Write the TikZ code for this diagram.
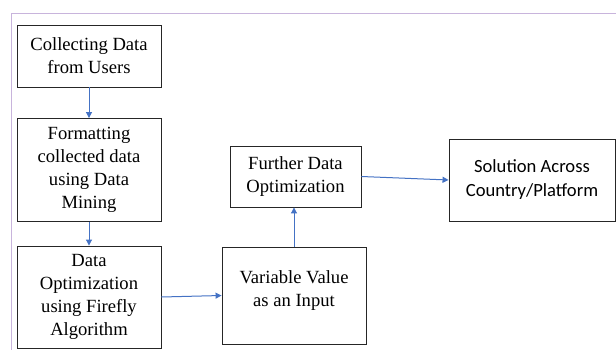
\documentclass[tikz,border=0pt]{standalone}
\usepackage{fontspec}
\newfontfamily\timesfont{Liberation Serif}
\newfontfamily\calfont{Carlito}
\usetikzlibrary{arrows.meta}
\definecolor{arrowblue}{HTML}{4472C4}
\definecolor{framepurple}{HTML}{C8B4DC}
\begin{document}
\begin{tikzpicture}[x=1pt,y=-1pt,
  box/.style={draw=black!85,line width=0.9pt,rectangle,align=center,inner sep=2pt,
    font=\timesfont\fontsize{18.6}{23}\selectfont},
  conn/.style={draw=arrowblue,line width=1pt,-{Triangle[length=6pt,width=6pt]}}]
\useasboundingbox (0,0) rectangle (616,350);
\draw[framepurple,line width=0.8pt] (616,13) -- (11,13) -- (11,350);
\node[box,minimum width=144pt,minimum height=62pt] (b1) at (89,56) {Collecting Data\\from Users};
\node[box,minimum width=144pt,minimum height=103pt] (b2) at (89,170) {Formatting\\collected data\\using Data\\Mining};
\node[box,minimum width=144pt,minimum height=102pt] (b3) at (89,297) {Data\\Optimization\\using Firefly\\Algorithm};
\node[box,minimum width=144pt,minimum height=97pt,text depth=14pt] (b4) at (294,295.5) {Variable Value\\as an Input};
\node[box,minimum width=131pt,minimum height=61pt] (b5) at (295.5,176.5) {Further Data\\Optimization};
\node[box,minimum width=166pt,minimum height=82pt,font=\calfont\fontsize{18.6}{24}\selectfont] (b6) at (532,180) {Solution Across\\Country/Platform};
\draw[conn] (b1) -- (b2);
\draw[conn] (b2) -- (b3);
\draw[conn] (b3.east) -- (b4.west);
\draw[conn] (b4.north) -- (b4.north |- b5.south);
\draw[conn] (b5.east) -- (b6.west);
\end{tikzpicture}
\end{document}
